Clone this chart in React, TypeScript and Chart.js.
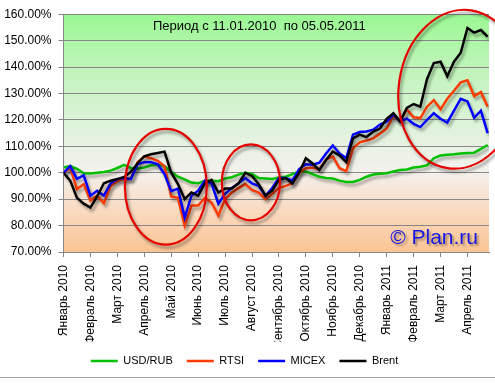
import React, { useEffect, useRef } from "react";
import { Chart, registerables } from "chart.js";

Chart.register(...registerables);

const monthLabels = [
  "Январь 2010", "Февраль 2010", "Март 2010", "Апрель 2010", "Май 2010", "Июнь 2010",
  "Июль 2010", "Август 2010", "Сентябрь 2010", "Октябрь 2010", "Ноябрь 2010", "Декабрь 2010",
  "Январь 2011", "Февраль 2011", "Март 2011", "Апрель 2011",
];

const yTicks = [70, 80, 90, 100, 110, 120, 130, 140, 150, 160];

// samples every quarter of a month, from 11.01.2010 to 05.05.2011 (values in % of start)
const SAMPLE_STEP = 0.25;
const X_MAX = 15.8;

const usdRub = [
  102, 102.5, 101.5, 99.8, 99.7, 100, 100.3, 100.8, 101.8, 103, 101.8, 101.5, 102, 102.8, 103, 102.5,
  100.3, 98.5, 97.5, 96.3, 96, 97, 97, 96.8, 97.8, 98.3, 99.3, 100, 99.5, 98, 97.8, 97.6,
  98.2, 98.5, 99.5, 100.5, 100.5, 99.5, 98.5, 98, 97.8, 97, 96.5, 96.5, 97.3, 98.5, 99.3, 99.6,
  99.8, 100.5, 101, 101.2, 102, 102.3, 102.8, 105.5, 106.5, 106.8, 107, 107.3, 107.5, 107.6, 109, 110.5,
];

const rtsi = [
  100, 101.8, 93.8, 95.7, 89.5, 91.3, 88.5, 95, 96.8, 97.6, 97.6, 104, 106.2, 105.5, 104.5, 102.5,
  91, 90.5, 80, 87.6, 87.6, 90.5, 88.7, 83.8, 90, 92.5, 94.2, 95.7, 93.5, 92.5, 90, 92,
  94.2, 95, 96, 100, 101.7, 102, 101.2, 105, 106.2, 101.7, 100.6, 109.2, 111.5, 112.2, 113, 114.8,
  116.7, 121.5, 119.5, 124, 121, 120.7, 125, 127.5, 124, 128, 131, 134.2, 135, 129, 130.5, 125,
];

const micex = [
  100, 102.5, 97.7, 99, 91.3, 93.2, 91.3, 96, 97.6, 98, 97.6, 103.2, 104, 104, 103.2, 99.5,
  93, 94, 83, 91.3, 93.2, 97, 95.9, 88.3, 92, 94.2, 96, 98, 96, 95, 91.3, 94.2,
  98, 98, 97, 101.4, 103.2, 103, 103.8, 107.3, 110.3, 107.3, 105.5, 114.4, 115.4, 115.6, 116.3, 118.2,
  119.3, 122, 119.5, 120.5, 118.5, 117.3, 120, 122.5, 120.4, 119, 123.5, 128, 127, 120.8, 123.5, 115,
];

const brent = [
  100, 97, 90.5, 88.3, 86.8, 91, 96, 97, 97.6, 98.4, 100.3, 103.6, 106.2, 107, 107.5, 108,
  100, 95.7, 90, 92.5, 91.3, 96, 97.3, 92.5, 94, 94, 96, 100, 98.8, 95.7, 91.3, 93.2,
  97.3, 98, 96, 100, 105.5, 103.5, 101, 104.8, 108, 106.6, 104, 113, 114.4, 113.5, 115.6, 116.7,
  120.4, 122.5, 119.5, 124.5, 126, 125, 135.5, 141.5, 142, 136.5, 142, 145.4, 154.8, 153, 154, 151.5,
];

// highlighted regions (data units): centre x, centre y, radius x, radius y, rotation
const ellipseCx = [3.8, 6.96, 14.7];
const ellipseCy = [94.7, 96.35, 131.6];
const ellipseRx = [1.52, 1.08, 2.25];
const ellipseRy = [21.9, 14.35, 30.2];
const ellipseRot = [0, 0, 0.15];

const FONT = "'Liberation Sans', Arial, sans-serif";
const GRID = "#878787";

const bgPlugin = {
  id: "bg",
  beforeDraw(chart: any) {
    const { ctx, chartArea: a } = chart;
    const g = ctx.createLinearGradient(0, a.top, 0, a.bottom);
    g.addColorStop(0, "#9af893");
    g.addColorStop(0.22, "#bff4b9");
    g.addColorStop(0.45, "#dcf3d8");
    g.addColorStop(0.66, "#f4f1ed");
    g.addColorStop(0.82, "#fadbc2");
    g.addColorStop(1, "#fbc494");
    ctx.save();
    ctx.fillStyle = g;
    ctx.fillRect(a.left, a.top, a.right - a.left, a.bottom - a.top);
    ctx.restore();
  },
};

const shadowPlugin = {
  id: "lineShadow",
  beforeDatasetDraw(chart: any) {
    const ctx = chart.ctx;
    ctx.save();
    ctx.shadowColor = "rgba(0,0,0,0.35)";
    ctx.shadowBlur = 3;
    ctx.shadowOffsetX = 2;
    ctx.shadowOffsetY = 3;
  },
  afterDatasetDraw(chart: any) {
    chart.ctx.restore();
  },
};

const annotPlugin = {
  id: "annot",
  afterDatasetsDraw(chart: any) {
    const { ctx, chartArea: a, scales } = chart;
    const sx = scales.x;
    const sy = scales.y;
    ctx.save();
    ctx.shadowColor = "rgba(0,0,0,0.4)";
    ctx.shadowBlur = 3;
    ctx.shadowOffsetX = 2;
    ctx.shadowOffsetY = 3;
    ctx.strokeStyle = "#e60000";
    ctx.lineWidth = 2.2;
    for (let i = 0; i < ellipseCx.length; i++) {
      const cx = sx.getPixelForValue(ellipseCx[i]);
      const cy = sy.getPixelForValue(ellipseCy[i]);
      const rx = Math.abs(sx.getPixelForValue(ellipseCx[i] + ellipseRx[i]) - cx);
      const ry = Math.abs(sy.getPixelForValue(ellipseCy[i] + ellipseRy[i]) - cy);
      ctx.beginPath();
      ctx.ellipse(cx, cy, rx, ry, ellipseRot[i], 0, Math.PI * 2);
      ctx.stroke();
    }
    ctx.restore();

    ctx.save();
    ctx.font = `13px ${FONT}`;
    ctx.fillStyle = "#000";
    ctx.textBaseline = "middle";
    ctx.textAlign = "left";
    ctx.fillText("Период с 11.01.2010  по 05.05.2011", a.left + 89.5, a.top + 12);
    ctx.restore();

    ctx.save();
    ctx.font = `21px ${FONT}`;
    ctx.textAlign = "right";
    ctx.textBaseline = "alphabetic";
    ctx.shadowColor = "rgba(0,0,0,0.35)";
    ctx.shadowBlur = 2;
    ctx.shadowOffsetX = 2;
    ctx.shadowOffsetY = 2;
    ctx.fillStyle = "#1616e4";
    ctx.fillText("© Plan.ru", a.right - 11, a.bottom - 8);
    ctx.restore();

    ctx.save();
    ctx.strokeStyle = "#a0a0a0";
    ctx.lineWidth = 1;
    ctx.beginPath();
    ctx.moveTo(0, 377.5);
    ctx.lineTo(chart.width, 377.5);
    ctx.stroke();
    ctx.restore();
  },
};

export default function App() {
  const ref = useRef<HTMLCanvasElement>(null);
  useEffect(() => {
    const canvas = ref.current!;
    const toPoints = (vals: number[]) => vals.map((v, i) => ({ x: i * SAMPLE_STEP, y: v }));
    const chart = new Chart(canvas, {
      type: "line",
      data: {
        datasets: [
          { label: "USD/RUB", data: toPoints(usdRub), borderColor: "#00c000", backgroundColor: "#00c000", order: 4 },
          { label: "RTSI", data: toPoints(rtsi), borderColor: "#ff3c00", backgroundColor: "#ff3c00", order: 3 },
          { label: "MICEX", data: toPoints(micex), borderColor: "#0000ff", backgroundColor: "#0000ff", order: 2 },
          { label: "Brent", data: toPoints(brent), borderColor: "#000000", backgroundColor: "#000000", order: 1 },
        ],
      },
      options: {
        responsive: false,
        animation: false,
        events: [],
        datasets: { line: { borderWidth: 2.5, pointRadius: 0, tension: 0, fill: false } } as any,
        layout: { padding: { top: 11, right: 6, bottom: 10.5, left: 0 } },
        scales: {
          x: {
            type: "linear",
            min: 0,
            max: X_MAX,
            afterBuildTicks: (s: any) => {
              s.ticks = monthLabels.map((_, i) => ({ value: i }));
            },
            afterFit: (s: any) => {
              s.height = 89.5;
            },
            ticks: {
              autoSkip: false,
              maxRotation: 90,
              minRotation: 90,
              padding: 8,
              color: "#000",
              font: { family: FONT, size: 12 },
              callback: (v: any) => monthLabels[Math.round(Number(v))] ?? "",
            },
            grid: { drawOnChartArea: false, drawTicks: true, tickLength: 5, color: GRID },
            border: { color: GRID },
          },
          y: {
            min: 70,
            max: 160,
            afterBuildTicks: (s: any) => {
              s.ticks = yTicks.map((v) => ({ value: v }));
            },
            afterFit: (s: any) => {
              s.width = 63.5;
            },
            ticks: {
              padding: 7,
              color: "#000",
              font: { family: FONT, size: 12 },
              callback: (v: any) => Number(v).toFixed(2) + "%",
            },
            grid: { color: GRID, tickLength: 5 },
            border: { color: GRID },
          },
        },
        plugins: {
          legend: {
            position: "bottom",
            labels: {
              usePointStyle: true,
              pointStyle: "line",
              pointStyleWidth: 27,
              padding: 14,
              color: "#000",
              font: { family: FONT, size: 11 },
              sort: (a: any, b: any) => a.datasetIndex - b.datasetIndex,
            },
          },
          tooltip: { enabled: false },
        },
      } as any,
      plugins: [bgPlugin, shadowPlugin, annotPlugin],
    });
    return () => chart.destroy();
  }, []);
  return (
    <div style={{ position: "fixed", left: 0, top: 0, width: 495, height: 387, background: "#fff" }}>
      <canvas ref={ref} width={495} height={387} style={{ display: "block" }} />
    </div>
  );
}
